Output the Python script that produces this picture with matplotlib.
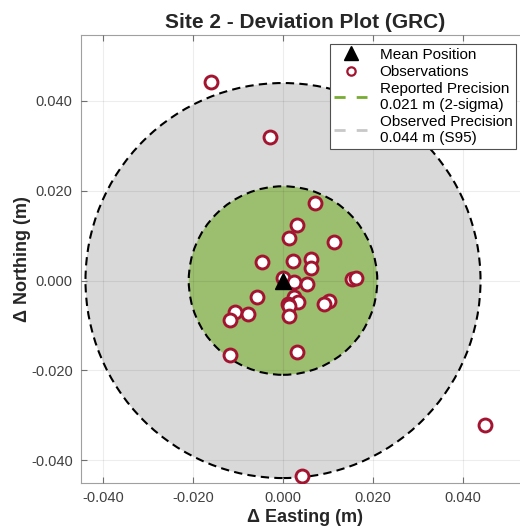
import numpy as np
import matplotlib
matplotlib.use('Agg')
import matplotlib.pyplot as plt
from matplotlib.patches import Circle
from matplotlib.lines import Line2D

plt.rcParams['font.family'] = ['Liberation Sans', 'DejaVu Sans']

# observation offsets from the mean (m)
east = [-0.0160, -0.0029, 0.0450, 0.0042, 0.0071, 0.0032, 0.0013, 0.0113,
        -0.0047, 0.0022, 0.0063, 0.0063, 0.0153, 0.0163, 0.0001, 0.0025,
        0.0053, -0.0057, 0.0024, 0.0034, 0.0012, 0.0013, 0.0103, 0.0092,
        -0.0106, -0.0079, -0.0118, 0.0013, -0.0118, 0.0032]
north = [0.0442, 0.0320, -0.0322, -0.0435, 0.0173, 0.0124, 0.0094, 0.0085,
         0.0041, 0.0043, 0.0049, 0.0027, 0.0004, 0.0006, 0.0006, -0.0003,
         -0.0008, -0.0037, -0.0036, -0.0047, -0.0052, -0.0057, -0.0045, -0.0053,
         -0.0069, -0.0075, -0.0088, -0.0078, -0.0166, -0.0159]
mean_pos = (0.0, 0.0)
reported_r = 0.021
observed_r = 0.044
ticks = [-0.04, -0.02, 0.0, 0.02, 0.04]

red = '#a2142f'
green_fill = '#9bbf6e'
gray_fill = '#d9d9d9'

fig = plt.figure(figsize=(5.2, 5.27), dpi=100)
ax = fig.add_axes([81 / 520, 44 / 527, 448 / 520, 448 / 527])

ax.add_patch(Circle(mean_pos, observed_r, facecolor=gray_fill, edgecolor='black',
                    linestyle=(0, (4, 2.5)), linewidth=1.5, zorder=1))
ax.add_patch(Circle(mean_pos, reported_r, facecolor=green_fill, edgecolor='black',
                    linestyle=(0, (4, 2.5)), linewidth=1.5, zorder=1.5))

ax.grid(True, color='black', alpha=0.07, linewidth=0.8, zorder=2)
ax.set_axisbelow(False)

ax.plot(east, north, 'o', markersize=9.3, markerfacecolor='white',
        markeredgecolor=red, markeredgewidth=2.1, linestyle='none', zorder=3)
ax.plot(*mean_pos, '^', markersize=12, color='black', zorder=4)

ax.set_xlim(-0.045, 0.0548)
ax.set_ylim(-0.0451, 0.0547)
ax.set_xticks(ticks)
ax.set_yticks(ticks)
ax.set_xticklabels(['%.3f' % t for t in ticks])
ax.set_yticklabels(['%.3f' % t for t in ticks])
ax.tick_params(direction='in', length=4, color='#707070', labelcolor='#404040',
               labelsize=10.5, top=True, right=True, pad=6)
for s in ax.spines.values():
    s.set_color('#a0a0a0')

ax.set_xlabel('Δ Easting (m)', fontsize=13, fontweight='bold', color='#262626', labelpad=3)
ax.set_ylabel('Δ Northing (m)', fontsize=13, fontweight='bold', color='#262626', labelpad=0)
ax.set_title('Site 2 - Deviation Plot (GRC)', fontsize=15, fontweight='bold',
             color='#262626', pad=5)

handles = [
    Line2D([], [], marker='^', color='black', linestyle='none', markersize=10),
    Line2D([], [], marker='o', markerfacecolor='white', markeredgecolor=red,
           markeredgewidth=1.6, linestyle='none', markersize=6),
    Line2D([], [], color='#77ac30', linestyle=(0, (4, 4)), linewidth=2),
    Line2D([], [], color='#c8c8c8', linestyle=(0, (4, 4)), linewidth=2),
]
labels = ['Mean Position', 'Observations',
          'Reported Precision\n0.021 m (2-sigma)',
          'Observed Precision\n0.044 m (S95)']
leg = ax.legend(handles, labels, loc='upper left',
                bbox_to_anchor=((330 - 81) / 448, 1 - 9 / 448),
                fontsize=11, frameon=True, fancybox=False, framealpha=1,
                borderpad=0.25, labelspacing=0.2, handlelength=2.2,
                handletextpad=0.8, borderaxespad=0)
leg.get_frame().set_edgecolor('#505050')
leg.get_frame().set_linewidth(0.8)
leg.set_zorder(5)

fig.savefig('out.png', dpi=100)
